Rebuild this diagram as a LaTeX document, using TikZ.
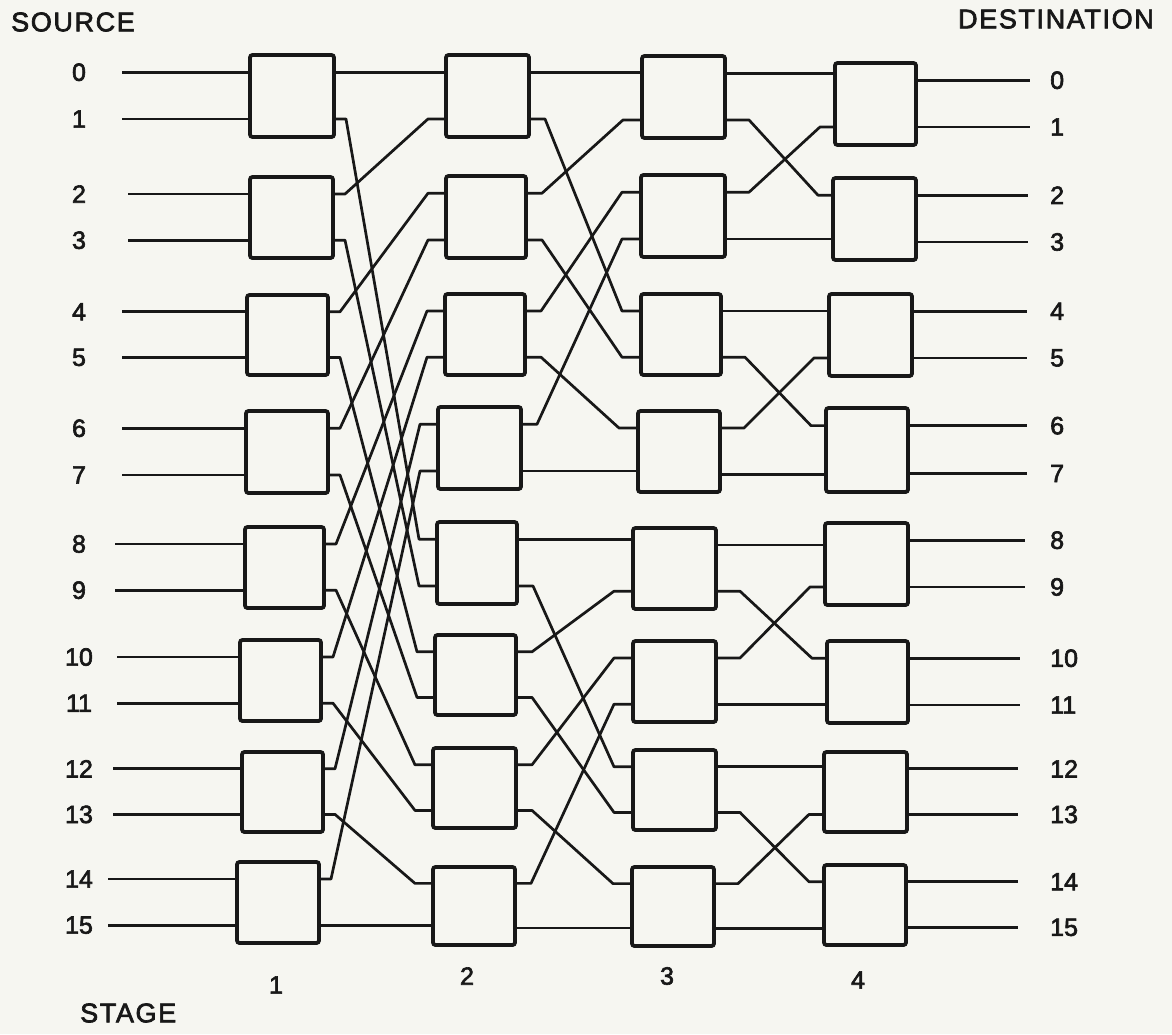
\documentclass[tikz,border=0pt]{standalone}
\usepackage{fontspec}
\setmainfont{Liberation Sans}
\usetikzlibrary{calc}

\definecolor{paper}{RGB}{246,246,241}
\definecolor{ink}{RGB}{24,24,24}

\tikzset{
  swbox/.style={draw=ink, line width=3.8pt, rounded corners=2.5pt,
                inner sep=0pt, outer sep=0pt},
  wire/.style={draw=ink, line width=2.7pt, line join=round},
  link/.style 2 args={to path={-- ++(#1,0) -- ([xshift=-#2]\tikztotarget) -- (\tikztotarget)}},
  numlbl/.style={font=\fontsize{25}{28}\selectfont\addfontfeature{FakeBold=2.5},
                 text=ink, inner sep=0pt},
  heading/.style={font=\fontsize{27}{30}\selectfont\addfontfeature{LetterSpace=6,FakeBold=2.5},
                  text=ink, inner sep=0pt},
}

% one 2x2 switch: name, left, top, right, bottom; inputs i0/i1 on the left, outputs o0/o1 on the right
\newcommand\placeswitch[5]{%
  \pgfmathsetmacro\bw{#4-#2}%
  \pgfmathsetmacro\bh{#5-#3}%
  \node[swbox, minimum width=\bw pt, minimum height=\bh pt] (#1) at ({(#2+#4)/2},{(#3+#5)/2}) {};
  \coordinate (#1-i0) at ($(#1.north west)!0.21!(#1.south west)$);
  \coordinate (#1-i1) at ($(#1.north west)!0.78!(#1.south west)$);
  \coordinate (#1-o0) at ($(#1.north east)!0.21!(#1.south east)$);
  \coordinate (#1-o1) at ($(#1.north east)!0.78!(#1.south east)$);
}

\begin{document}
\begin{tikzpicture}[x=1pt,y=-1pt]
\fill[paper] (0,0) rectangle (1172,1034);
\useasboundingbox (0,0) rectangle (1172,1034);

% switches of the four stages
\foreach \n/\xa/\ya/\xb/\yb in {
  s1-0/250/55/334/137, s1-1/250/177/333/258, s1-2/247/295/328/375, s1-3/246/411/328/493,
  s1-4/245/527/324/608, s1-5/240/640/321/721, s1-6/242/752/323/832, s1-7/237/862/319/943,
  s2-0/446/55/529/137, s2-1/446/176/526/258, s2-2/445/294/525/375, s2-3/438/407/521/489,
  s2-4/437/522/517/604, s2-5/435/635/516/715, s2-6/433/748/516/828, s2-7/433/867/515/945,
  s3-0/642/56/725/138, s3-1/641/175/725/257, s3-2/641/294/721/375, s3-3/638/411/720/492,
  s3-4/633/528/716/609, s3-5/633/641/716/722, s3-6/633/750/716/830, s3-7/632/867/714/946,
  s4-0/835/63/916/145, s4-1/833/178/916/260, s4-2/829/294/912/376, s4-3/826/408/908/492,
  s4-4/825/523/908/605, s4-5/827/641/908/723, s4-6/824/752/907/832, s4-7/824/865/906/945}
  {\placeswitch{\n}{\xa}{\ya}{\xb}{\yb}}

% source inputs and their numbers
\foreach \j/\xs in {0/122,1/122,2/128,3/128,4/122,5/122,6/122,7/122,
                    8/115,9/115,10/117,11/117,12/113,13/113,14/108,15/108}{
  \pgfmathtruncatemacro\sw{int(\j/2)}
  \pgfmathtruncatemacro\pt{mod(\j,2)}
  \coordinate (src\j) at (s1-\sw-i\pt -| \xs,0);
  \draw[wire] (src\j) -- (s1-\sw-i\pt);
  \node[numlbl] (srclbl\j) at (s1-\sw-i\pt -| 79,0) {\j};
}

% destination outputs and their numbers
\foreach \j/\xe in {0/1030,1/1030,2/1028,3/1028,4/1027,5/1027,6/1027,7/1027,
                    8/1025,9/1025,10/1020,11/1020,12/1018,13/1018,14/1018,15/1018}{
  \pgfmathtruncatemacro\sw{int(\j/2)}
  \pgfmathtruncatemacro\pt{mod(\j,2)}
  \coordinate (dst\j) at (s4-\sw-o\pt -| \xe,0);
  \draw[wire] (s4-\sw-o\pt) -- (dst\j);
  \node[numlbl, anchor=west] (dstlbl\j) at (s4-\sw-o\pt -| 1050,0) {\j};
}

% stage 1 -> stage 2: unshuffle over 16 lines
\foreach \j in {0,...,15}{
  \pgfmathtruncatemacro\sa{int(\j/2)}
  \pgfmathtruncatemacro\pa{mod(\j,2)}
  \pgfmathtruncatemacro\tk{int(\j/2)+8*mod(\j,2)}
  \pgfmathtruncatemacro\sb{int(\tk/2)}
  \pgfmathtruncatemacro\pb{mod(\tk,2)}
  \ifnum\j=\tk
    \draw[wire] (s1-\sa-o\pa) -- (s1-\sa-o\pa -| s2-\sb-i\pb);
  \else
    \draw[wire] (s1-\sa-o\pa) to[link={12pt}{18pt}] (s2-\sb-i\pb);
  \fi
}

% stage 2 -> stage 3: unshuffle within each half of 8 lines
\foreach \j in {0,...,15}{
  \pgfmathtruncatemacro\sa{int(\j/2)}
  \pgfmathtruncatemacro\pa{mod(\j,2)}
  \pgfmathtruncatemacro\tk{8*int(\j/8)+int(mod(\j,8)/2)+4*mod(\j,2)}
  \pgfmathtruncatemacro\sb{int(\tk/2)}
  \pgfmathtruncatemacro\pb{mod(\tk,2)}
  \ifnum\j=\tk
    \draw[wire] (s2-\sa-o\pa) -- (s2-\sa-o\pa -| s3-\sb-i\pb);
  \else
    \draw[wire] (s2-\sa-o\pa) to[link={16pt}{19pt}] (s3-\sb-i\pb);
  \fi
}

% stage 3 -> stage 4: unshuffle within each group of 4 lines
\foreach \j in {0,...,15}{
  \pgfmathtruncatemacro\sa{int(\j/2)}
  \pgfmathtruncatemacro\pa{mod(\j,2)}
  \pgfmathtruncatemacro\tk{4*int(\j/4)+int(mod(\j,4)/2)+2*mod(\j,2)}
  \pgfmathtruncatemacro\sb{int(\tk/2)}
  \pgfmathtruncatemacro\pb{mod(\tk,2)}
  \ifnum\j=\tk
    \draw[wire] (s3-\sa-o\pa) -- (s3-\sa-o\pa -| s4-\sb-i\pb);
  \else
    \draw[wire] (s3-\sa-o\pa) to[link={24pt}{15pt}] (s4-\sb-i\pb);
  \fi
}

% headings
\node[heading, anchor=west] (srctitle) at (11,22) {SOURCE};
\node[heading, anchor=east] (dsttitle) at (1154,19) {DESTINATION};
\node[heading, anchor=west] (stagetitle) at (80,1013) {STAGE};
\node[numlbl] (stage1) at (276,985) {1};
\node[numlbl] (stage2) at (467,976) {2};
\node[numlbl] (stage3) at (667,976) {3};
\node[numlbl] (stage4) at (858,980) {4};
\end{tikzpicture}
\end{document}
